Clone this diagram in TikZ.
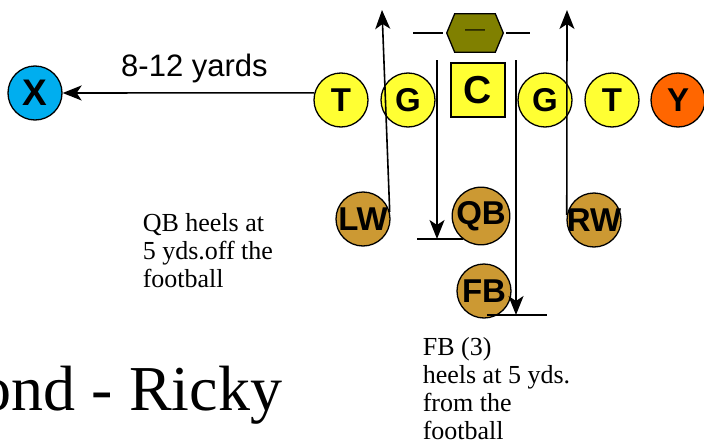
\documentclass[tikz,border=0pt]{standalone}
\usepackage{fontspec}
\setmainfont{Liberation Serif}
\setsansfont{Liberation Sans}
\usepackage{tikz}
\usetikzlibrary{arrows.meta, positioning}
\usepackage{xcolor}
\definecolor{pYellow}{HTML}{FFFF33}
\definecolor{pOrange}{HTML}{FF6600}
\definecolor{pBlue}{HTML}{00AEEF}
\definecolor{pGold}{HTML}{CC9933}
\definecolor{pOlive}{HTML}{808000}

\begin{document}
\begin{tikzpicture}[x=1pt, y=-1pt, >={Stealth[length=19pt, width=15pt, inset=5pt]}, line width=1.6pt,
    player/.style={draw, circle, line width=1.3pt, minimum size=54pt, inner sep=0pt, font=\sffamily\bfseries\fontsize{33}{33}\selectfont},
    note/.style={align=left, anchor=north west, inner sep=0pt, font=\fontsize{26}{28}\selectfont}]
        \useasboundingbox (0,0) rectangle (704,447);
        % line
        \node[player, fill=pYellow] (lt) at (341,100) {T};
        \node[player, fill=pYellow] (lg) at (408,100) {G};
        \node[draw, line width=1.3pt, fill=pYellow, minimum size=54pt, inner sep=0pt, font=\sffamily\bfseries\fontsize{39}{39}\selectfont] (c) at (478,90) {C};
        \node[player, fill=pYellow] (rg) at (545,100) {G};
        \node[player, fill=pYellow] (rt) at (612,100) {T};
        \node[player, fill=pOrange] (y) at (678,100) {Y};
        \node[player, fill=pBlue, font=\sffamily\bfseries\fontsize{37}{37}\selectfont] (x) at (35,93) {X};
        % backs
        \node[player, fill=pGold] (lw) at (363,219) {\makebox[0pt]{LW}};
        \node[player, fill=pGold] (qb) at (481,216) {QB};
        \node[player, fill=pGold] (rw) at (594,220) {\makebox[0pt]{RW}};
        \node[player, fill=pGold] (fb) at (484,291) {FB};
        % ball
        \node[minimum width=55pt, minimum height=37pt, inner sep=0pt] (ball) at (475,33) {};
        \draw[line width=1.3pt, fill=pOlive] ([xshift=8pt]ball.north west) -- ([xshift=-8pt]ball.north east) -- (ball.east)
          -- ([xshift=-8pt]ball.south east) -- ([xshift=8pt]ball.south west) -- (ball.west) -- cycle;
        \node[font=\sffamily\fontsize{20}{20}\selectfont, text=black!85!pOlive] (lace) at (ball) {---};
        \draw ([xshift=-4pt]ball.west) -- ++(-30,0);
        \draw ([xshift=3pt]ball.east) -- ++(24,0);
        % routes
        \coordinate (lwend) at (382,10);
        \coordinate (rwend) at (567,10);
        \coordinate (qbtop) at (437,60);
        \coordinate (qbset) at (437,239);
        \coordinate (fbtop) at (516,60);
        \coordinate (fbset) at (516,315);
        \draw[->] (lt.165) -- (x) node[midway, above=6pt, xshift=6pt, font=\sffamily\fontsize{31}{31}\selectfont]{8-12 yards};
        \draw[->] (lw.15) -- (lwend);
        \draw[->] (rw.170) -- (rwend);
        \draw[->] (qbtop) -- (qbset);
        \draw (qbset) ++(-20,0) -- ++(46,0);
        \draw[->] (fbtop) -- (fbset);
        \draw (fbset) ++(-29,0) -- ++(60,0);
        % notes
        \node[note] (qbnote) at (142,213) {QB heels at\\5 yds.off the\\football};
        \node[note] (fbnote) at (422,337) {FB (3)\\heels at 5 yds.\\from the\\football};
        \node[anchor=base west, inner sep=0pt, font=\fontsize{64}{64}\selectfont] (title) at (-21,410) {ond - Ricky};
      \end{tikzpicture}
\end{document}
